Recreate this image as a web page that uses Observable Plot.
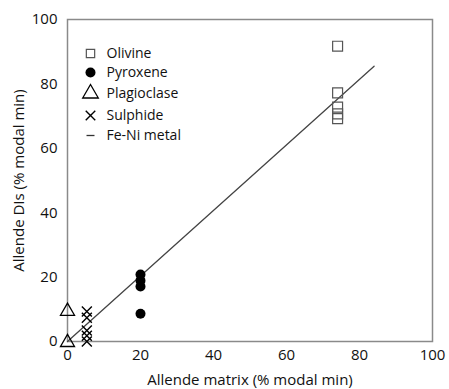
<!DOCTYPE html>
<html>
<head>
<meta charset="utf-8">
<script src="https://cdn.jsdelivr.net/npm/d3@7"></script>
<script src="https://cdn.jsdelivr.net/npm/@observablehq/plot@0.6"></script>
<style>
  html, body { margin: 0; padding: 0; background: #fff; }
  #chart { width: 449px; height: 389px; }
</style>
</head>
<body>
<div id="chart"></div>
<script>
// Data (Allende matrix vs Allende DIs, % modal min)
const olivineX = [74, 74, 74, 74, 74];
const olivineY = [91.7, 77.2, 72.8, 70.7, 69.2];
const pyroxeneX = [20, 20, 20, 20];
const pyroxeneY = [20.8, 18.9, 17.1, 8.6];
const plagioclaseX = [0, 0];
const plagioclaseY = [9.4, -0.3];
const sulphideX = [5.3, 5.3, 5.3, 5.3, 5.3];
const sulphideY = [9.3, 7.4, 3.4, 1.8, 0];
const fitLineX = [0, 84];
const fitLineY = [0, 85.5];
const axisTicks = [0, 20, 40, 60, 80, 100];
const legendLabels = ["Olivine", "Pyroxene", "Plagioclase", "Sulphide", "Fe-Ni metal"];
const xTitle = "Allende matrix (% modal min)";
const yTitle = "Allende DIs (% modal min)";

const pts = (xs, ys) => xs.map((x, i) => ({x, y: ys[i]}));
const FONT = "'Open Sans', sans-serif";
const INK = "#111";

// short horizontal dash symbol for the Fe-Ni metal key
const dashSymbol = {
  draw(context, size) {
    const w = Math.sqrt(size) * 0.45;
    context.moveTo(-w, 0);
    context.lineTo(w, 0);
  }
};

const legendStyles = [
  {symbol: "square", r: 4.7, fill: "none", stroke: "#555", strokeWidth: 1.2},
  {symbol: "circle", r: 5, fill: "#000", stroke: "none"},
  {symbol: "triangle", r: 5.8, fill: "none", stroke: "#000", strokeWidth: 1.3},
  {symbol: "times", r: 4.4, fill: "none", stroke: "#000", strokeWidth: 1.4},
  {symbol: dashSymbol, r: 5, fill: "none", stroke: "#333", strokeWidth: 1.3}
];
const legendRowDy = [34, 53, 74, 96, 116];

const legendMarks = [];
legendLabels.forEach((lab, i) => {
  const dy = legendRowDy[i];
  legendMarks.push(Plot.dot([lab], {frameAnchor: "top-left", dx: 23, dy, ...legendStyles[i]}));
  legendMarks.push(Plot.text([lab], {frameAnchor: "top-left", dx: 39, dy, text: d => d, textAnchor: "start", lineAnchor: "middle", fontSize: 14, fill: INK, fontFamily: FONT}));
});

const chart = Plot.plot({
  width: 449,
  height: 389,
  marginLeft: 67,
  marginRight: 17,
  marginTop: 19,
  marginBottom: 48,
  style: {fontFamily: FONT, fontSize: "15px", color: INK, background: "#fff"},
  x: {domain: [0, 100]},
  y: {domain: [0, 100]},
  marks: [
    Plot.axisX({ticks: axisTicks, tickSize: 0, tickPadding: 8, label: null, fontSize: 15}),
    Plot.axisY({ticks: axisTicks, tickSize: 0, tickPadding: 10, label: null, fontSize: 15}),
    Plot.text([xTitle], {frameAnchor: "bottom", dy: 43, text: d => d, textAnchor: "middle", fontSize: 15, fill: INK}),
    Plot.text([yTitle], {frameAnchor: "left", dx: -48, rotate: -90, text: d => d, textAnchor: "middle", lineAnchor: "middle", fontSize: 15, fill: INK}),
    Plot.frame({stroke: "#8a8a8a", strokeWidth: 1.5}),
    Plot.line(pts(fitLineX, fitLineY), {x: "x", y: "y", stroke: "#444", strokeWidth: 1.3}),
    Plot.dot(pts(olivineX, olivineY), {x: "x", y: "y", symbol: "square", r: 5.6, fill: "none", stroke: "#555", strokeWidth: 1.2}),
    Plot.dot(pts(pyroxeneX, pyroxeneY), {x: "x", y: "y", symbol: "circle", r: 5, fill: "#000", stroke: "none"}),
    Plot.dot(pts(plagioclaseX, plagioclaseY), {x: "x", y: "y", symbol: "triangle", r: 5.2, fill: "none", stroke: "#000", strokeWidth: 1.3}),
    Plot.dot(pts(sulphideX, sulphideY), {x: "x", y: "y", symbol: "times", r: 4.6, fill: "none", stroke: "#000", strokeWidth: 1.4}),
    ...legendMarks
  ]
});
document.getElementById("chart").appendChild(chart);
</script>
</body>
</html>
